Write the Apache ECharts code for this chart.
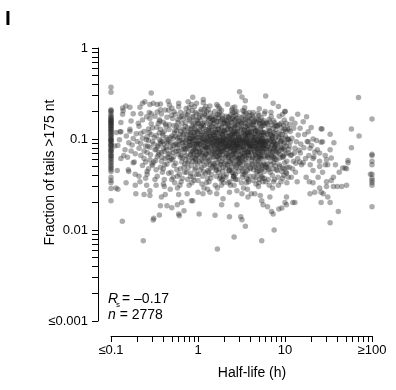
<!DOCTYPE html>
<html>
<head>
<meta charset="utf-8">
<script src="https://cdn.jsdelivr.net/npm/echarts@6/dist/echarts.min.js"></script>
<style>
html,body{margin:0;padding:0;background:#fff;}
#chart{width:396px;height:390px;}
</style>
</head>
<body>
<div id="chart"></div>
<script>
// ---- data ----
// half-life <= 0.1 h bin: tail fractions
const lowBinFractions = [0.37,0.326,0.21,0.205,0.2,0.19,0.18,0.175,0.17,0.165,0.16,0.155,0.15,0.145,0.14,0.135,0.13,0.125,0.12,0.115,0.11,0.105,0.1,0.097,0.094,0.09,0.087,0.084,0.08,0.077,0.074,0.071,0.068,0.065,0.062,0.06,0.057,0.055,0.052,0.05,0.048,0.046,0.044,0.038,0.035,0.0285,0.033,0.021,0.16,0.15,0.13,0.1,0.095,0.085,0.075,0.065,0.12,0.11,0.14];
// half-life >= 100 h bin: tail fractions
const highBinFractions = [0.166,0.068,0.066,0.057,0.052,0.041,0.035,0.033,0.031,0.018,0.037];
// [half-life (h), fraction of tails > 175 nt]
const cloudPoints = [
[0.12,0.085],[0.13,0.061],[0.115,0.118],[0.12,0.028],[0.14,0.066],[0.125,0.098],[0.145,0.076],[0.118,0.045],[0.138,0.205],[0.13,0.152],[0.11,0.084],[0.127,0.12],
[0.16,0.091],[0.17,0.074],[0.18,0.101],[0.155,0.063],[0.19,0.069],[0.165,0.128],[0.185,0.056],[0.175,0.086],[0.195,0.114],[0.16,0.044],[0.19,0.041],[0.17,0.158],[0.2,0.094],[0.15,0.108],[0.148,0.23],
[0.21,0.079],[0.22,0.066],[0.23,0.102],[0.24,0.121],[0.25,0.084],[0.26,0.071],[0.27,0.096],[0.28,0.059],[0.29,0.112],[0.21,0.138],[0.23,0.051],[0.25,0.056],[0.27,0.129],[0.22,0.089],[0.24,0.074],[0.26,0.106],[0.28,0.081],[0.3,0.051],[0.295,0.053],[0.21,0.039],[0.26,0.041],[0.29,0.147],[0.23,0.162],[0.25,0.037],[0.27,0.047],[0.22,0.116],[0.28,0.168],[0.24,0.061],
[0.31,0.088],[0.32,0.076],[0.33,0.109],[0.34,0.064],[0.35,0.086],[0.36,0.099],[0.37,0.128],[0.38,0.071],[0.39,0.094],[0.4,0.079],[0.41,0.122],[0.42,0.061],[0.43,0.104],[0.44,0.091],[0.31,0.056],[0.33,0.046],[0.35,0.148],[0.37,0.049],[0.39,0.043],[0.41,0.036],[0.43,0.138],[0.32,0.178],[0.34,0.198],[0.36,0.163],[0.38,0.188],[0.4,0.153],[0.42,0.208],[0.44,0.173],[0.3,0.132],[0.33,0.077],[0.35,0.067],[0.37,0.089],[0.39,0.116],[0.41,0.073],[0.43,0.081],[0.45,0.063],[0.34,0.039],[0.4,0.047],[0.44,0.053],[0.36,0.117],[0.38,0.057],
[0.46,0.093],[0.48,0.081],[0.5,0.108],[0.52,0.071],[0.54,0.123],[0.56,0.089],[0.58,0.102],[0.6,0.074],[0.62,0.113],[0.64,0.066],[0.66,0.091],[0.68,0.128],[0.47,0.143],[0.49,0.061],[0.51,0.168],[0.53,0.051],[0.55,0.187],[0.57,0.046],[0.59,0.153],[0.61,0.041],[0.63,0.197],[0.65,0.056],[0.67,0.167],[0.69,0.049],[0.46,0.207],[0.5,0.036],[0.54,0.033],[0.58,0.039],[0.62,0.031],[0.66,0.037],[0.48,0.104],[0.52,0.085],[0.56,0.073],[0.6,0.133],[0.64,0.097],[0.68,0.079],[0.47,0.069],[0.51,0.059],[0.55,0.107],[0.59,0.086],[0.63,0.063],[0.67,0.111],[0.5,0.218],[0.6,0.226],[0.65,0.178],[0.53,0.141],[0.57,0.124],[0.61,0.096],[0.69,0.084],[0.49,0.043],
[0.71,0.092],[0.73,0.076],[0.75,0.112],[0.77,0.064],[0.79,0.101],[0.81,0.086],[0.83,0.119],[0.85,0.071],[0.87,0.096],[0.89,0.079],[0.91,0.131],[0.93,0.061],[0.95,0.104],[0.97,0.087],[0.99,0.116],[0.72,0.151],[0.76,0.054],[0.8,0.162],[0.84,0.051],[0.88,0.173],[0.92,0.046],[0.96,0.188],[0.74,0.043],[0.78,0.198],[0.82,0.039],[0.86,0.206],[0.9,0.035],[0.94,0.143],[0.98,0.053],[0.7,0.124],[0.74,0.099],[0.78,0.083],[0.82,0.067],[0.86,0.139],[0.9,0.101],[0.94,0.077],[0.98,0.066],[0.72,0.059],[0.76,0.134],[0.8,0.093],[0.84,0.107],[0.88,0.063],[0.92,0.088],[0.96,0.073],[0.73,0.216],[0.79,0.031],[0.85,0.033],[0.91,0.226],[0.97,0.041],[0.75,0.171],[0.83,0.156],[0.89,0.117],[0.95,0.163],[0.77,0.048],[0.87,0.057],[0.93,0.109],[0.99,0.091],[0.81,0.127],[0.71,0.078],[0.99,0.146],
[1.02,0.089],[1.05,0.074],[1.08,0.111],[1.11,0.066],[1.14,0.099],[1.17,0.084],[1.2,0.121],[1.23,0.069],[1.26,0.094],[1.29,0.081],[1.32,0.129],[1.35,0.059],[1.38,0.106],[1.01,0.149],[1.04,0.056],[1.07,0.159],[1.1,0.049],[1.13,0.176],[1.16,0.044],[1.19,0.189],[1.22,0.042],[1.25,0.201],[1.28,0.037],[1.31,0.209],[1.34,0.034],[1.37,0.144],[1.03,0.126],[1.06,0.097],[1.09,0.081],[1.12,0.069],[1.15,0.141],[1.18,0.103],[1.21,0.077],[1.24,0.068],[1.27,0.114],[1.3,0.087],[1.33,0.093],[1.36,0.071],[1.39,0.119],[1.02,0.063],[1.08,0.136],[1.14,0.057],[1.2,0.154],[1.26,0.053],[1.32,0.166],[1.38,0.047],[1.05,0.181],[1.11,0.032],[1.17,0.029],[1.23,0.228],[1.29,0.028],[1.35,0.169],[1.04,0.086],[1.1,0.109],[1.16,0.092],[1.22,0.082],[1.28,0.101],[1.34,0.112],[1.07,0.072],[1.13,0.117],[1.19,0.062],[1.25,0.079],[1.31,0.057],[1.37,0.098],[1.01,0.041],[1.3,0.045],[1.12,0.147],[1.24,0.127],[1.36,0.134],[1.06,0.199],[1.18,0.213],
[1.42,0.091],[1.45,0.076],[1.48,0.109],[1.51,0.064],[1.54,0.101],[1.57,0.086],[1.6,0.118],[1.63,0.071],[1.66,0.096],[1.69,0.079],[1.72,0.128],[1.75,0.061],[1.78,0.104],[1.81,0.089],[1.84,0.074],[1.87,0.114],[1.9,0.067],[1.93,0.097],[1.96,0.084],[1.99,0.123],[1.41,0.152],[1.46,0.054],[1.5,0.161],[1.55,0.051],[1.59,0.173],[1.64,0.046],[1.68,0.187],[1.73,0.043],[1.77,0.197],[1.82,0.039],[1.86,0.207],[1.91,0.036],[1.95,0.147],[1.98,0.033],[1.43,0.124],[1.47,0.099],[1.52,0.083],[1.56,0.069],[1.61,0.139],[1.65,0.103],[1.7,0.077],[1.74,0.066],[1.79,0.116],[1.83,0.087],[1.88,0.093],[1.92,0.073],[1.97,0.121],[1.44,0.063],[1.53,0.134],[1.62,0.059],[1.71,0.156],[1.8,0.053],[1.89,0.164],[1.94,0.049],[1.49,0.179],[1.58,0.031],[1.67,0.029],[1.76,0.218],[1.85,0.031],[1.4,0.171],[1.46,0.088],[1.55,0.107],[1.64,0.094],[1.73,0.082],[1.82,0.099],[1.91,0.112],[1.5,0.072],[1.59,0.117],[1.68,0.064],[1.77,0.077],[1.86,0.057],[1.95,0.096],[1.42,0.041],[1.6,0.045],[1.78,0.037],[1.96,0.039],[1.52,0.149],[1.7,0.127],[1.88,0.136],[1.56,0.201],[1.74,0.184],[1.92,0.169],
[2.02,0.088],[2.06,0.076],[2.1,0.108],[2.14,0.066],[2.18,0.098],[2.22,0.086],[2.26,0.117],[2.3,0.071],[2.34,0.093],[2.38,0.081],[2.42,0.126],[2.46,0.061],[2.5,0.103],[2.54,0.091],[2.58,0.076],[2.62,0.113],[2.66,0.069],[2.7,0.097],[2.74,0.084],[2.78,0.122],[2.04,0.148],[2.09,0.056],[2.15,0.158],[2.21,0.051],[2.27,0.172],[2.33,0.046],[2.39,0.186],[2.45,0.043],[2.51,0.196],[2.57,0.039],[2.63,0.141],[2.69,0.036],[2.75,0.144],[2.03,0.124],[2.08,0.099],[2.13,0.083],[2.19,0.069],[2.24,0.138],[2.29,0.101],[2.35,0.079],[2.4,0.066],[2.47,0.114],[2.53,0.087],[2.59,0.093],[2.65,0.073],[2.71,0.119],[2.77,0.086],[2.05,0.063],[2.16,0.133],[2.28,0.057],[2.4,0.153],[2.52,0.053],[2.64,0.163],[2.76,0.049],[2.11,0.178],[2.23,0.033],[2.36,0.031],[2.48,0.168],[2.6,0.031],[2.72,0.183],[2.07,0.086],[2.17,0.106],[2.25,0.092],[2.32,0.082],[2.41,0.099],[2.49,0.111],[2.56,0.074],[2.61,0.116],[2.67,0.062],[2.73,0.077],[2.79,0.059],[2.12,0.041],[2.31,0.045],[2.55,0.037],[2.68,0.041],[2.2,0.146],[2.37,0.127],[2.6,0.134],[2.44,0.208],[2.66,0.198],[2.0,0.079],[2.26,0.063],[2.5,0.068],[2.34,0.109],
[2.82,0.087],[2.88,0.074],[2.94,0.107],[3.0,0.064],[3.06,0.097],[3.12,0.083],[3.18,0.116],[3.24,0.069],[3.3,0.092],[3.36,0.078],[3.42,0.124],[3.48,0.059],[3.54,0.102],[3.6,0.088],[3.66,0.073],[3.72,0.112],[3.78,0.067],[3.84,0.096],[3.9,0.082],[3.96,0.121],[2.85,0.146],[2.92,0.054],[3.02,0.157],[3.1,0.049],[3.2,0.171],[3.28,0.044],[3.38,0.184],[3.46,0.041],[3.56,0.192],[3.64,0.037],[3.74,0.142],[3.82,0.034],[3.92,0.138],[2.84,0.122],[2.9,0.096],[2.98,0.081],[3.04,0.067],[3.14,0.137],[3.22,0.099],[3.32,0.076],[3.4,0.065],[3.5,0.113],[3.58,0.086],[3.68,0.091],[3.76,0.071],[3.86,0.118],[3.94,0.085],[2.87,0.061],[3.08,0.132],[3.26,0.057],[3.44,0.151],[3.62,0.051],[3.8,0.161],[3.98,0.047],[2.96,0.176],[3.16,0.033],[3.34,0.029],[3.52,0.166],[3.7,0.028],[3.88,0.181],[2.81,0.084],[2.99,0.105],[3.11,0.091],[3.23,0.081],[3.35,0.098],[3.47,0.111],[3.59,0.072],[3.71,0.115],[3.83,0.062],[3.95,0.076],[3.05,0.058],[3.29,0.041],[3.53,0.043],[3.77,0.036],[3.17,0.147],[3.41,0.126],[3.65,0.133],[3.27,0.206],[3.89,0.196],[3.13,0.061],[3.45,0.066],[3.69,0.108],
[4.05,0.086],[4.12,0.073],[4.2,0.106],[4.28,0.063],[4.36,0.096],[4.44,0.082],[4.52,0.114],[4.6,0.068],[4.68,0.091],[4.76,0.077],[4.84,0.122],[4.92,0.058],[5.0,0.101],[5.08,0.087],[5.16,0.072],[5.24,0.111],[5.32,0.066],[5.4,0.094],[5.48,0.079],[5.56,0.118],[4.08,0.144],[4.22,0.053],[4.38,0.154],[4.54,0.049],[4.7,0.168],[4.86,0.044],[5.02,0.181],[5.18,0.041],[5.34,0.137],[5.5,0.037],[4.1,0.121],[4.26,0.095],[4.42,0.079],[4.58,0.066],[4.74,0.134],[4.9,0.098],[5.06,0.075],[5.22,0.064],[5.38,0.109],[5.54,0.084],[4.16,0.059],[4.48,0.131],[4.8,0.056],[5.12,0.149],[5.44,0.051],[4.3,0.174],[4.64,0.032],[4.96,0.03],[5.28,0.159],[5.58,0.034],[4.02,0.083],[4.34,0.104],[4.66,0.089],[4.98,0.079],[5.3,0.097],[4.18,0.109],[4.5,0.071],[4.82,0.113],[5.14,0.061],[5.46,0.074],[4.4,0.039],[4.72,0.043],[5.04,0.036],[5.36,0.046],[4.24,0.143],[4.56,0.124],[4.88,0.191],[5.2,0.129],[5.52,0.139],[4.62,0.107],[4.94,0.064],
[5.7,0.086],[5.8,0.072],[5.9,0.104],[6.0,0.062],[6.1,0.094],[6.2,0.081],[6.3,0.113],[6.4,0.067],[6.5,0.089],[6.6,0.076],[6.7,0.121],[6.8,0.057],[6.9,0.099],[7.0,0.085],[7.1,0.071],[7.2,0.108],[7.3,0.064],[7.4,0.093],[7.5,0.078],[7.6,0.116],[7.7,0.059],[7.8,0.087],[7.9,0.074],[5.75,0.142],[5.95,0.052],[6.15,0.151],[6.35,0.048],[6.55,0.164],[6.75,0.043],[6.95,0.177],[7.15,0.04],[7.35,0.132],[7.55,0.036],[7.75,0.141],[7.95,0.046],[5.65,0.118],[5.85,0.093],[6.05,0.078],[6.25,0.065],[6.45,0.131],[6.65,0.097],[6.85,0.074],[7.05,0.063],[7.25,0.104],[7.45,0.055],[7.65,0.095],[7.85,0.068],[6.0,0.034],[6.6,0.031],[7.2,0.029],[5.8,0.189],[6.9,0.197],[7.4,0.159],[6.2,0.053],[6.8,0.112],[7.6,0.082],
[8.1,0.085],[8.3,0.071],[8.5,0.103],[8.7,0.062],[8.9,0.094],[9.1,0.08],[9.3,0.112],[9.5,0.066],[9.7,0.089],[9.9,0.075],[10.2,0.121],[10.5,0.057],[10.8,0.098],[8.2,0.141],[8.6,0.052],[9.0,0.149],[9.4,0.048],[9.8,0.162],[10.3,0.043],[10.7,0.131],[8.4,0.117],[8.8,0.092],[9.2,0.077],[9.6,0.064],[10.0,0.129],[10.4,0.084],[10.9,0.07],[8.3,0.038],[9.0,0.034],[9.7,0.04],[10.5,0.033],[8.6,0.178],[9.4,0.187],[10.1,0.107],[8.0,0.059],[9.9,0.055],[10.6,0.049],[8.8,0.068],[9.5,0.101],
[11.2,0.084],[11.6,0.066],[12.0,0.102],[12.5,0.057],[13.0,0.079],[13.5,0.093],[14.0,0.061],[14.5,0.075],[15.2,0.088],[11.5,0.121],[12.2,0.047],[13.2,0.043],[14.2,0.111],[15.5,0.052],[11.8,0.038],[12.8,0.07],[13.8,0.034],[14.8,0.056],[11.4,0.144],[12.6,0.131],[15.0,0.07],[13.3,0.054],[11.0,0.098],
[16.5,0.08],[17.2,0.061],[18.0,0.094],[18.8,0.066],[19.5,0.052],[20.2,0.085],[21.0,0.045],[16.8,0.112],[17.5,0.038],[19.0,0.034],[21.5,0.064],[16.2,0.055],
[23.5,0.076],[25,0.057],[27,0.043],[29,0.066],[24,0.038],[31,0.052],[34,0.062],[38,0.052],[36,0.038],[42,0.043],
[0.135,0.0125],[0.235,0.0076],[0.306,0.0129],[0.31,0.0135],[0.36,0.0146],[0.114,0.029],[0.149,0.033],[0.19,0.031],[0.193,0.025],[0.215,0.034],[0.24,0.0245],[0.257,0.031],[0.28,0.024],[0.38,0.023],[0.37,0.0185],[0.44,0.0185],[0.5,0.0176],[0.58,0.019],[0.65,0.02],[0.69,0.0163],[0.61,0.0143],[0.42,0.0245],[0.48,0.028],[0.6,0.0245],[0.75,0.025],[0.84,0.021],[0.33,0.031],[0.41,0.03],[0.28,0.027],[0.158,0.046],[0.18,0.055],
[1.67,0.0062],[2.6,0.0084],[5.4,0.0076],[7.5,0.01],[3.5,0.011],[3.1,0.014],[3.2,0.013],[2.3,0.014],[1.57,0.0145],[0.87,0.021],[1.87,0.019],[2.8,0.019],[1.94,0.022],[3.2,0.025],[4.1,0.025],[5.4,0.021],[5.6,0.019],[6.3,0.018],[7.0,0.016],[7.3,0.015],[8.5,0.017],[10,0.02],[10.4,0.023],[6.7,0.023],[5.2,0.024],[2.8,0.027],[2.3,0.026],[1.64,0.025],[1.37,0.026],[1.14,0.025],[1.0,0.026],[3.75,0.023],[4.5,0.025],[1.03,0.015],[0.6,0.015],
[13,0.02],[12.3,0.02],[10.4,0.019],[9.2,0.0175],[22,0.026],[19.4,0.025],[27.5,0.025],[25,0.029],[21,0.033],[30,0.03],[26,0.026],[31,0.023],[33,0.02],[26,0.02],[41,0.016],[33,0.012],[30,0.034],[34,0.035],[36,0.03],[40,0.03],[45,0.03],[51,0.031],[49,0.048],[53,0.058],[53,0.055],[46,0.048],[51,0.047],[96,0.041],
[70,0.285],[58,0.129],[71,0.108],[26.6,0.129],[33,0.113],[36.5,0.091],[58,0.08],[27,0.093],[23,0.096],[21,0.1],[33,0.076],[25,0.07],[22,0.072],[30,0.059],[29,0.052],[25,0.05],[21,0.061],[19.4,0.079],[18.5,0.093],[18.5,0.12],[14.9,0.131],[13,0.149],[10,0.2],[14,0.187],[17.7,0.176],[16.2,0.155],[20,0.134],[26,0.13],[12,0.166],[26,0.092],
[0.29,0.32],[0.165,0.223],[0.136,0.219],[0.136,0.187],[0.18,0.19],[0.215,0.223],[0.23,0.247],[0.245,0.257],[0.28,0.24],[0.306,0.247],[0.34,0.24],[0.37,0.242],[0.455,0.26],[0.6,0.247],[0.13,0.12],[0.165,0.122],[0.206,0.149],[0.257,0.176],[0.275,0.196],[0.22,0.19],[0.77,0.257],[0.84,0.24],[3.0,0.33],[3.2,0.29],[3.5,0.264],[6.0,0.297],[0.87,0.287],[1.15,0.272],[1.15,0.25],[1.37,0.23],[1.64,0.24],[2.5,0.22],[2.8,0.2],[3.4,0.2],[4.3,0.195],[5.9,0.2],[8.4,0.227],[10,0.2],[7.3,0.247],[0.96,0.247]
];
// additional points of the dense middle of the cloud
const cloudPointsDense = [
[0.255,0.098],[0.265,0.083],[0.275,0.118],[0.285,0.067],[0.3,0.093],[0.315,0.104],[0.325,0.058],[0.335,0.135],[0.345,0.082],[0.355,0.071],[0.365,0.157],[0.375,0.095],[0.385,0.063],[0.395,0.109],[0.405,0.088],[0.415,0.052],[0.425,0.145],[0.435,0.076],[0.445,0.099],[0.455,0.068],[0.465,0.127],[0.475,0.058],[0.485,0.091],[0.495,0.182],[0.505,0.077],[0.515,0.101],[0.525,0.064],[0.535,0.116],[0.545,0.087],[0.555,0.054],[0.565,0.139],[0.575,0.079],[0.585,0.163],[0.595,0.068],[0.605,0.105],[0.615,0.087],[0.625,0.047],[0.635,0.121],[0.645,0.076],[0.655,0.148],[0.665,0.062],[0.675,0.098],[0.685,0.112],[0.695,0.071],[0.705,0.053],[0.715,0.137],[0.725,0.088],[0.735,0.066],[0.745,0.103],[0.755,0.184],[0.765,0.079],[0.775,0.119],[0.785,0.057],[0.795,0.094],[0.26,0.044],[0.32,0.036],[0.4,0.032],[0.46,0.042],[0.52,0.038],[0.58,0.029],[0.64,0.034],[0.7,0.043],[0.76,0.036],[0.29,0.19],[0.37,0.21],[0.47,0.236],[0.53,0.199],[0.62,0.175],[0.71,0.191],[0.79,0.222],
[0.805,0.085],[0.815,0.113],[0.825,0.072],[0.835,0.094],[0.845,0.131],[0.855,0.062],[0.865,0.106],[0.875,0.083],[0.885,0.148],[0.895,0.069],[0.905,0.097],[0.915,0.118],[0.925,0.077],[0.935,0.056],[0.945,0.126],[0.955,0.089],[0.965,0.067],[0.975,0.104],[0.985,0.161],[0.995,0.079],
[1.015,0.095],[1.035,0.071],[1.055,0.122],[1.075,0.086],[1.095,0.058],[1.115,0.103],[1.135,0.076],[1.155,0.133],[1.175,0.065],[1.195,0.091],[1.215,0.113],[1.235,0.081],[1.255,0.149],[1.275,0.061],[1.295,0.099],[1.315,0.074],[1.335,0.124],[1.355,0.088],[1.375,0.052],[1.395,0.108],[1.415,0.079],[1.435,0.138],[1.455,0.067],[1.475,0.094],[1.495,0.117],
[0.83,0.042],[0.88,0.038],[0.94,0.048],[1.0,0.035],[1.06,0.046],[1.12,0.039],[1.18,0.051],[1.25,0.033],[1.32,0.043],[1.4,0.037],[1.47,0.049],[0.86,0.177],[0.93,0.195],[1.03,0.172],[1.09,0.211],[1.2,0.183],[1.28,0.174],[1.39,0.193],[1.46,0.161],
[0.82,0.101],[0.9,0.087],[0.98,0.121],[1.04,0.104],[1.13,0.093],[1.21,0.097],[1.3,0.069],[1.38,0.082],[0.87,0.074],[0.95,0.059],[1.09,0.139],[1.27,0.107],[1.44,0.101],
[1.51,0.088],[1.53,0.112],[1.55,0.073],[1.57,0.095],[1.59,0.128],[1.61,0.083],[1.63,0.101],[1.65,0.064],[1.67,0.117],[1.69,0.091],[1.71,0.072],[1.73,0.106],[1.75,0.141],[1.77,0.086],[1.79,0.068],[1.81,0.122],[1.83,0.097],[1.85,0.079],[1.87,0.132],[1.89,0.088],[1.91,0.061],[1.93,0.109],[1.95,0.075],[1.97,0.094],[1.99,0.151],
[2.01,0.102],[2.04,0.081],[2.07,0.118],[2.1,0.069],[2.13,0.093],[2.16,0.127],[2.19,0.084],[2.22,0.063],[2.25,0.106],[2.28,0.141],[2.31,0.089],[2.34,0.074],[2.37,0.112],[2.4,0.096],[2.43,0.059],[2.46,0.131],[2.49,0.083],[2.52,0.099],[2.55,0.068],[2.58,0.121],[2.61,0.087],[2.64,0.105],[2.67,0.076],[2.7,0.139],[2.73,0.092],[2.76,0.065],[2.79,0.114],[2.82,0.081],[2.85,0.101],[2.88,0.129],[2.91,0.073],[2.94,0.089],[2.97,0.061],
[1.52,0.053],[1.6,0.049],[1.68,0.055],[1.76,0.047],[1.84,0.052],[1.92,0.044],[2.0,0.054],[2.08,0.048],[2.17,0.052],[2.26,0.045],[2.35,0.056],[2.44,0.049],[2.53,0.042],[2.62,0.054],[2.71,0.047],[2.8,0.052],[2.9,0.044],[2.98,0.055],
[1.54,0.163],[1.63,0.155],[1.72,0.171],[1.81,0.158],[1.9,0.182],[2.02,0.162],[2.12,0.157],[2.23,0.176],[2.33,0.164],[2.45,0.154],[2.56,0.178],[2.68,0.161],[2.79,0.169],[2.93,0.155],
[1.58,0.078],[1.66,0.089],[1.74,0.094],[1.82,0.072],[1.94,0.103],[2.06,0.091],[2.14,0.077],[2.27,0.086],[2.39,0.079],[2.51,0.091],[2.63,0.083],[2.74,0.098],[2.86,0.092],[2.95,0.104],
[1.62,0.039],[1.86,0.035],[2.09,0.038],[2.32,0.034],[2.57,0.039],[2.83,0.036],[1.7,0.229],[2.18,0.241],[2.65,0.225],
[3.02,0.087],[3.06,0.112],[3.1,0.073],[3.14,0.095],[3.18,0.128],[3.22,0.064],[3.26,0.101],[3.3,0.083],[3.34,0.117],[3.38,0.069],[3.42,0.091],[3.46,0.106],[3.5,0.076],[3.54,0.136],[3.58,0.062],[3.62,0.094],[3.66,0.119],[3.7,0.082],[3.74,0.101],[3.78,0.072],[3.82,0.127],[3.86,0.088],[3.9,0.066],[3.94,0.109],[3.98,0.079],
[4.03,0.097],[4.09,0.071],[4.15,0.118],[4.21,0.084],[4.27,0.062],[4.33,0.131],[4.39,0.092],[4.45,0.074],[4.51,0.103],[4.57,0.081],[4.63,0.122],[4.69,0.063],[4.75,0.098],[4.81,0.086],[4.87,0.071],[4.93,0.117],[4.99,0.092],[5.05,0.068],[5.11,0.105],[5.17,0.079],[5.23,0.095],[5.29,0.062],[5.35,0.121],[5.41,0.083],[5.47,0.101],[5.53,0.071],[5.59,0.089],[5.65,0.109],[5.71,0.064],[5.77,0.092],[5.83,0.078],[5.89,0.119],[5.95,0.087],
[3.04,0.053],[3.2,0.047],[3.36,0.055],[3.52,0.049],[3.68,0.045],[3.84,0.054],[4.0,0.048],[4.18,0.052],[4.36,0.046],[4.54,0.056],[4.72,0.049],[4.9,0.051],[5.08,0.045],[5.26,0.053],[5.44,0.048],[5.62,0.055],[5.8,0.044],[5.98,0.05],
[3.12,0.152],[3.32,0.163],[3.52,0.148],[3.72,0.171],[3.92,0.157],[4.12,0.166],[4.32,0.149],[4.52,0.158],[4.72,0.153],[4.92,0.163],[5.12,0.147],[5.32,0.171],[5.52,0.152],[5.72,0.159],[5.92,0.148],
[3.08,0.081],[3.28,0.094],[3.48,0.089],[3.68,0.098],[3.88,0.093],[4.06,0.088],[4.24,0.083],[4.42,0.097],[4.6,0.091],[4.78,0.078],[4.96,0.086],[5.14,0.093],[5.32,0.088],[5.5,0.096],[5.68,0.081],[5.86,0.097],
[3.24,0.038],[3.6,0.033],[3.96,0.039],[4.3,0.035],[4.66,0.038],[5.0,0.033],[5.4,0.039],[5.78,0.037],[3.44,0.221],[4.2,0.183],[5.06,0.215],
[6.05,0.092],[6.15,0.071],[6.25,0.114],[6.35,0.083],[6.45,0.063],[6.55,0.101],[6.65,0.124],[6.75,0.079],[6.85,0.094],[6.95,0.066],[7.05,0.108],[7.15,0.087],[7.25,0.073],[7.35,0.117],[7.45,0.092],[7.55,0.062],[7.65,0.081],[7.75,0.104],[7.85,0.127],[7.95,0.077],[8.15,0.089],[8.35,0.106],[8.55,0.074],[8.75,0.113],[8.95,0.081],[9.15,0.097],[9.35,0.063],[9.55,0.123],[9.75,0.078],[9.95,0.091],[10.3,0.069],[10.7,0.101],[11.1,0.077],[11.5,0.093],[11.9,0.067],
[6.1,0.049],[6.5,0.046],[6.9,0.052],[7.3,0.047],[7.7,0.051],[8.2,0.045],[8.7,0.05],[9.2,0.044],[9.8,0.047],[10.4,0.042],[11.2,0.049],
[6.3,0.146],[6.7,0.155],[7.1,0.142],[7.6,0.151],[8.1,0.138],[8.6,0.144],[9.1,0.132],[9.6,0.142],[10.3,0.149],[11.0,0.127],
[6.4,0.036],[7.4,0.034],[8.4,0.031],[9.4,0.037],[10.9,0.038]
];
const lowBinHalfLife = 0.1;
const highBinHalfLife = 100;
const xLabelValues = [0.1, 1, 10, 100];
const xLabelTexts = ['≤0.1', '1', '10', '≥100'];
const yLabelValues = [0.001, 0.01, 0.1, 1];
const yLabelTexts = ['≤0.001', '0.01', '0.1', '1'];
const statRs = '–0.17';
const statN = '2778';

// ---- build ----
function decadeTicks(from, to) {
  const out = [];
  for (let d = from; d < to * 0.999; d *= 10) {
    for (let k = 1; k <= 9; k++) out.push(+(k * d).toPrecision(3));
  }
  out.push(to);
  return out;
}
function labelFor(values, texts) {
  return function (v) {
    for (let i = 0; i < values.length; i++) {
      if (Math.abs(Math.log10(values[i]) - Math.log10(v)) < 1e-6) return texts[i];
    }
    return '';
  };
}
const allPoints = []
  .concat(lowBinFractions.map(f => [lowBinHalfLife, f]))
  .concat(cloudPoints)
  .concat(cloudPointsDense)
  .concat(highBinFractions.map(f => [highBinHalfLife, f]));

const FONT = '"Liberation Sans", Arial, Helvetica, sans-serif';
const chart = echarts.init(document.getElementById('chart'), null, {renderer: 'canvas'});
chart.setOption({
  animation: false,
  backgroundColor: '#fff',
  grid: {left: 111, right: 24, top: 48, bottom: 69, containLabel: false, outerBoundsMode: 'none'},
  xAxis: {
    type: 'log', logBase: 10, min: 0.1, max: 100, offset: 15,
    axisLine: {show: true, onZero: false, lineStyle: {color: '#000', width: 1}},
    axisTick: {show: true, inside: false, length: 6, customValues: decadeTicks(0.1, 100), lineStyle: {color: '#000', width: 1}},
    minorTick: {show: false},
    axisLabel: {show: true, customValues: xLabelValues, formatter: labelFor(xLabelValues, xLabelTexts), margin: 8, fontSize: 13, color: '#000', fontFamily: FONT},
    splitLine: {show: false},
    name: 'Half-life (h)', nameLocation: 'middle', nameGap: 30, nameMoveOverlap: false,
    nameTextStyle: {fontSize: 14, color: '#000', fontFamily: FONT, padding: [0, 0, 0, 21]}
  },
  yAxis: {
    type: 'log', logBase: 10, min: 0.001, max: 1, offset: 13,
    axisLine: {show: true, onZero: false, lineStyle: {color: '#000', width: 1}},
    axisTick: {show: true, inside: false, length: 6, customValues: decadeTicks(0.001, 1), lineStyle: {color: '#000', width: 1}},
    minorTick: {show: false},
    axisLabel: {show: true, customValues: yLabelValues, formatter: labelFor(yLabelValues, yLabelTexts), margin: 10, fontSize: 13, color: '#000', fontFamily: FONT},
    splitLine: {show: false},
    name: 'Fraction of tails >175 nt', nameLocation: 'middle', nameGap: 41, nameRotate: 90, nameMoveOverlap: false,
    nameTextStyle: {fontSize: 14, color: '#000', fontFamily: FONT, padding: [0, 0, 0, 24]}
  },
  series: [{
    type: 'scatter',
    data: allPoints,
    symbol: 'circle',
    symbolSize: 5.5,
    clip: false,
    silent: true,
    itemStyle: {color: 'rgba(40,40,40,0.48)', borderWidth: 0}
  }],
  graphic: [
    {type: 'text', left: 5, top: 9, style: {text: 'I', fontSize: 21, fontWeight: 'bold', fill: '#000', fontFamily: FONT}},
    {type: 'text', left: 108, top: 292, style: {text: 'R', fontSize: 14, fontStyle: 'italic', fill: '#000', fontFamily: FONT}},
    {type: 'text', left: 116, top: 301, style: {text: 's', fontSize: 8, fill: '#000', fontFamily: FONT}},
    {type: 'text', left: 122, top: 292, style: {text: '= ' + statRs, fontSize: 14, fill: '#000', fontFamily: FONT}},
    {type: 'text', left: 108, top: 308, style: {rich: {i: {fontStyle: 'italic', fontSize: 14, fontFamily: FONT, fill: '#000'}, r: {fontSize: 14, fontFamily: FONT, fill: '#000'}}, text: '{i|n}{r| = ' + statN + '}'}}
  ]
});
</script>
</body>
</html>
